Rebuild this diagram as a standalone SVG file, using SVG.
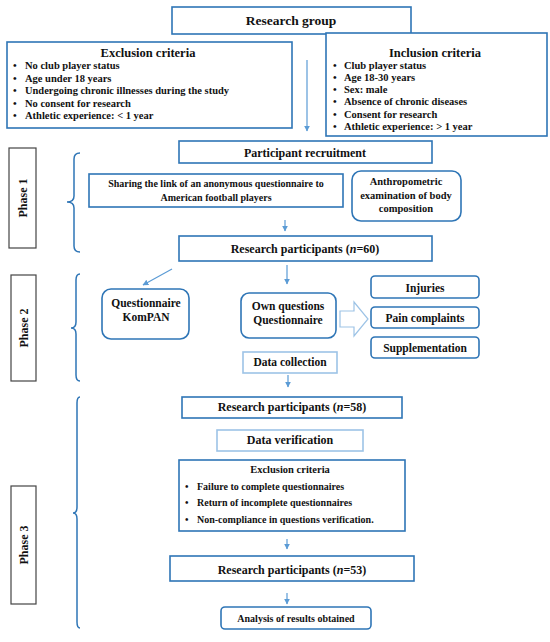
<svg xmlns="http://www.w3.org/2000/svg" width="550" height="642" viewBox="0 0 550 642">
<defs>
<marker id="ah" viewBox="0 0 10 10" refX="9" refY="5" markerWidth="5" markerHeight="5" orient="auto"><path d="M0,0 L10,5 L0,10 z" fill="#5B9BD5"/></marker>
<style>
text{font-family:"Liberation Serif","Times New Roman",serif;font-weight:bold;fill:#111}
.b{fill:#fff;stroke:#2E75B6;stroke-width:1.6}
.l{fill:#fff;stroke:#9DC3E6;stroke-width:1.6}
.p{fill:#fff;stroke:#444;stroke-width:1.2}
.c{text-anchor:middle}
.br{fill:none;stroke:#2E75B6;stroke-width:1.5}
.ar{stroke:#5B9BD5;stroke-width:1.2;fill:none;marker-end:url(#ah)}
</style>
</defs>
<rect width="550" height="642" fill="#fff"/>
<g id="research-group"><rect class="b" x="172" y="7" width="239" height="27"/><text class="c" x="291" y="25" font-size="13.5">Research group</text></g>
<g id="exclusion1"><rect class="b" x="7" y="42" width="285" height="86"/>
<text class="c" x="148" y="57" font-size="12.5">Exclusion criteria</text>
<g font-size="10.5"><text x="13" y="69">•</text><text x="25" y="69">No club  player status</text>
<text x="13" y="82">•</text><text x="25" y="82">Age under  18 years</text>
<text x="13" y="94">•</text><text x="25" y="94" textLength="204" lengthAdjust="spacingAndGlyphs">Undergoing  chronic illnesses during  the study</text>
<text x="13" y="107">•</text><text x="25" y="107">No consent  for research</text>
<text x="13" y="119">•</text><text x="25" y="119">Athletic  experience: &lt; 1 year</text></g></g>
<g id="inclusion"><rect class="b" x="326" y="33" width="221" height="103"/>
<text class="c" x="435" y="57" font-size="12.5">Inclusion criteria</text>
<g font-size="10.5"><text x="333" y="69">•</text><text x="344" y="69">Club  player status</text>
<text x="333" y="81">•</text><text x="344" y="81">Age 18-30 years</text>
<text x="333" y="93">•</text><text x="344" y="93">Sex: male</text>
<text x="333" y="105">•</text><text x="344" y="105">Absence of chronic  diseases</text>
<text x="333" y="118">•</text><text x="344" y="118">Consent for research</text>
<text x="333" y="130">•</text><text x="344" y="130">Athletic  experience: &gt; 1 year</text></g></g>
<g id="recruitment"><rect class="b" x="179" y="141" width="253" height="22"/><text class="c" x="305" y="157" font-size="12">Participant recruitment</text></g>
<g id="sharing"><rect class="b" x="89" y="174" width="254" height="33"/><text class="c" x="216" y="187" font-size="10">Sharing  the link of an anonymous  questionnaire  to</text><text class="c" x="216" y="201" font-size="10">American  football players</text></g>
<g id="anthropometric"><rect class="b" x="352" y="171" width="109" height="50" rx="9"/><text class="c" x="406" y="185" font-size="10.5">Anthropometric</text><text class="c" x="406" y="199" font-size="10.5">examination  of body</text><text class="c" x="406" y="212" font-size="10.5">composition</text></g>
<g id="participants60"><rect class="b" x="179" y="236" width="253" height="25"/><text class="c" x="305" y="253" font-size="12">Research participants (<tspan font-style="italic">n</tspan>=60)</text></g>
<g id="phase1"><rect class="p" x="9" y="148" width="27" height="100"/><text class="c" transform="translate(27,198) rotate(-90)" font-size="12">Phase 1</text></g>
<g id="phase2"><rect class="p" x="11" y="275" width="25" height="106"/><text class="c" transform="translate(28,328) rotate(-90)" font-size="12">Phase 2</text></g>
<g id="phase3"><rect class="p" x="11" y="486" width="25" height="118"/><text class="c" transform="translate(28,545) rotate(-90)" font-size="12">Phase 3</text></g>
<g id="kompan"><rect class="b" x="102" y="289" width="87" height="50" rx="9"/><text class="c" x="146" y="307" font-size="11.5">Questionnaire</text><text class="c" x="146" y="321" font-size="11.5">KomPAN</text></g>
<g id="own"><rect class="b" x="241" y="293" width="95" height="45" rx="8"/><text class="c" x="288" y="310" font-size="11.5">Own questions</text><text class="c" x="288" y="324" font-size="11.5">Questionnaire</text></g>
<g id="injuries"><rect class="b" x="371" y="276" width="108" height="22" rx="4"/><text class="c" x="425" y="292" font-size="11.5">Injuries</text></g>
<g id="pain"><rect class="b" x="371" y="307" width="108" height="21" rx="4"/><text class="c" x="425" y="322" font-size="11.5">Pain complaints</text></g>
<g id="supplementation"><rect class="b" x="371" y="337" width="108" height="21" rx="4"/><text class="c" x="425" y="352" font-size="11.5">Supplementation</text></g>
<g id="datacollection"><rect class="l" x="243" y="352" width="94" height="21"/><text class="c" x="290" y="366" font-size="11.5">Data collection</text></g>
<g id="participants58"><rect class="b" x="182" y="397" width="220" height="21"/><text class="c" x="292" y="411" font-size="12">Research participants (<tspan font-style="italic">n</tspan>=58)</text></g>
<g id="dataverification"><rect class="l" x="217" y="430" width="146" height="21"/><text class="c" x="290" y="444" font-size="12">Data verification</text></g>
<g id="exclusion2"><rect class="b" x="179" y="460" width="226" height="71"/><text class="c" x="290" y="473" font-size="10.5">Exclusion  criteria</text>
<g font-size="10"><text x="185" y="490">•</text><text x="197" y="490">Failure  to complete  questionnaires</text>
<text x="185" y="506">•</text><text x="197" y="506">Return  of incomplete  questionnaires</text>
<text x="185" y="523">•</text><text x="197" y="523">Non-compliance  in questions verification.</text></g></g>
<g id="participants53"><rect class="b" x="170" y="556" width="244" height="25"/><text class="c" x="292" y="574" font-size="12">Research participants (<tspan font-style="italic">n</tspan>=53)</text></g>
<g id="analysis"><rect class="b" x="221" y="607" width="150" height="22" rx="4"/><text class="c" x="296" y="622" font-size="10">Analysis of results obtained</text></g>
<g id="connectors">
<path class="br" d="M80,153 Q74,153 74,159 L74,196 Q74,202 67,202 Q74,202 74,208 L74,246 Q74,252 80,252"/>
<path class="br" d="M80,274 Q76,274 76,280 L76,322 Q76,328 71,328 Q76,328 76,334 L76,375 Q76,381 80,381"/>
<path class="br" d="M80,397 Q77,397 77,403 L77,507 Q77,513 73,513 Q77,513 77,519 L77,622 Q77,628 80,628"/>
<path class="ar" d="M307,60 L307,131"/>
<path class="ar" d="M285,220 L285,231"/>
<path class="ar" d="M172,269 L143,285"/>
<path class="ar" d="M287,265 L287,284"/>
<path class="ar" d="M288,375 L288,387"/>
<path class="ar" d="M287,539 L287,549"/>
<path class="ar" d="M287,593 L287,604"/>
<path d="M340,311 L354,311 L354,302 L368,319 L354,336 L354,327 L340,327 Z" fill="#fff" stroke="#9DC3E6" stroke-width="1.2"/>
</g>
</svg>
